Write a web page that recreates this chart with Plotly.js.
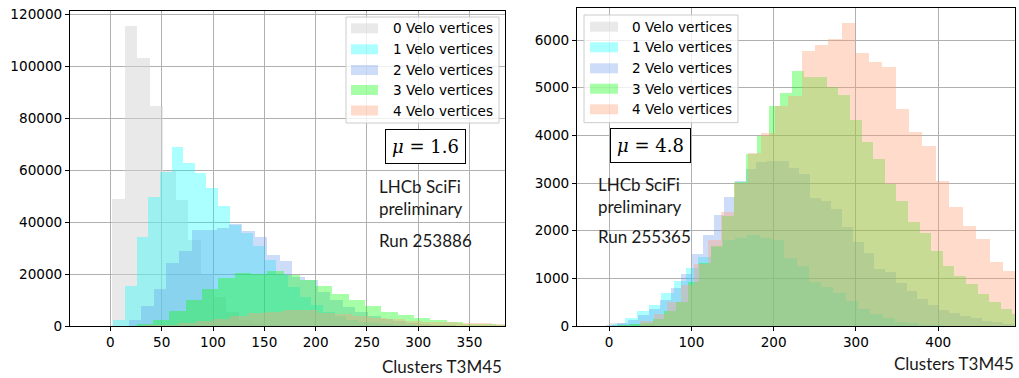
<!DOCTYPE html>
<html>
<head>
<meta charset="utf-8">
<script src="https://cdn.plot.ly/plotly-3.0.1.min.js"></script>
<style>html,body{margin:0;padding:0;background:#fff;}#chart{width:1019px;height:378px;}</style>
</head>
<body>
<div id="chart"></div>
<script>
// ---------------- DATA ----------------
const seriesNames = ["0 Velo vertices", "1 Velo vertices", "2 Velo vertices", "3 Velo vertices", "4 Velo vertices"];

// Left panel (mu = 1.6, Run 253886): histogram bins (start, width) and counts
const L0_start = 1.5,  L0_width = 12.4;
const L0_counts = [49000,115700,103200,84700,59700,48400,33000,20000,11000,5500,2500,1000,400,150];
const L1_start = 2.8,  L1_width = 11.35;
const L1_counts = [2500,15400,34100,49700,59350,68900,62700,58850,53200,46400,39000,36000,31000,25500,20000,15000,11000,8000,5500,3800,2500,1600,1000,600,350,200,100];
const L2_start = 17.8, L2_width = 12.28;
const L2_counts = [2200,7700,14400,24300,28900,36900,37100,37900,39100,36500,34300,27200,25000,19000,17600,13000,10000,7500,5500,4000,2800,1900,1200,800,500,300,150];
const L3_start = 9.7,  L3_width = 15.9;
const L3_counts = [100,650,2200,5700,10200,14400,18300,20400,20000,21000,19500,17600,15300,12500,9900,7600,5400,4100,3200,2200,1500,900,600,300];
const L4_start = 15,   L4_width = 17;
const L4_counts = [50,200,500,1200,2000,2800,4000,5000,5400,6300,6300,5200,4800,3800,3200,2600,2100,1700,1500,1200,1000,800];

// Right panel (mu = 4.8, Run 255365)
const R0_start = 0.6,  R0_width = 18.2;
const R0_counts = [55,45,25,10];
const R1_start = 3.9,  R1_width = 14.93;
const R1_counts = [40,160,315,440,700,950,1210,1450,1650,1800,1850,1900,1850,1800,1430,1250,930,825,690,530,350,250,160,90,60,30,20];
const R2_start = -3.4, R2_width = 13.03;
const R2_counts = [20,60,130,230,350,550,800,1100,1510,1910,2330,2710,3050,3300,3450,3470,3470,3310,3190,2680,2630,2450,2070,1770,1530,1190,1140,900,735,560,440,336,267,210,160,110,80,50];
const R3_start = -3.3, R3_width = 14.1;
const R3_counts = [0,20,40,60,140,320,500,920,1320,1680,2300,3030,3610,3980,4610,4890,5360,5220,5220,5010,4850,4330,3860,3500,2980,2620,2180,1960,1580,1250,1050,880,670,500,360,250];
const R4_start = 38.1, R4_width = 16.32;
const R4_counts = [100,250,500,850,1300,1800,2400,3000,3630,4050,4620,4820,5760,5890,6020,6360,5730,5530,5430,4550,4080,3780,3050,2490,2090,1830,1340,1160,900];

const xTicksLeft = [0,50,100,150,200,250,300,350];
const xTicksRight = [0,100,200,300,400];
const yTicksLeft = [0,20000,40000,60000,80000,100000,120000];
const yTicksRight = [0,1000,2000,3000,4000,5000,6000];
const xTitle = "Clusters T3M45";
const panelTexts = [["LHCb SciFi","preliminary","Run 253886"],["LHCb SciFi","preliminary","Run 255365"]];
const muValues = ["1.6","4.8"];

// ---------------- STYLE ----------------
const colors = ["rgba(211,211,211,0.5)","rgba(0,255,255,0.33)","rgba(100,149,237,0.32)","rgba(0,255,0,0.35)","rgba(255,160,122,0.38)"];
const W = 1019, H = 378;
const px = x => x / W;
const py = y => 1 - y / H;

function hist(start, width, counts, color, name, xa, ya) {
  const x = counts.map((_, i) => start + width * (i + 0.5));
  return {type:"bar", x:x, y:counts, width:counts.map(() => width), name:name,
    marker:{color:color, line:{width:0}}, xaxis:xa, yaxis:ya, showlegend:false, hoverinfo:"x+y"};
}

const traces = [
  hist(L0_start,L0_width,L0_counts,colors[0],seriesNames[0],"x","y"),
  hist(L1_start,L1_width,L1_counts,colors[1],seriesNames[1],"x","y"),
  hist(L2_start,L2_width,L2_counts,colors[2],seriesNames[2],"x","y"),
  hist(L3_start,L3_width,L3_counts,colors[3],seriesNames[3],"x","y"),
  hist(L4_start,L4_width,L4_counts,colors[4],seriesNames[4],"x","y"),
  hist(R0_start,R0_width,R0_counts,colors[0],seriesNames[0],"x2","y2"),
  hist(R1_start,R1_width,R1_counts,colors[1],seriesNames[1],"x2","y2"),
  hist(R2_start,R2_width,R2_counts,colors[2],seriesNames[2],"x2","y2"),
  hist(R3_start,R3_width,R3_counts,colors[3],seriesNames[3],"x2","y2"),
  hist(R4_start,R4_width,R4_counts,colors[4],seriesNames[4],"x2","y2")
];

const tickFont = {family:"DejaVu Sans", size:13.6, color:"#000"};
const axBase = {ticks:"outside", ticklen:4, tickwidth:1, tickcolor:"#000", showline:true, linecolor:"#000", linewidth:1,
  mirror:true, showgrid:true, gridcolor:"#b0b0b0", gridwidth:1, zeroline:false, tickfont:tickFont, fixedrange:true};

const layout = {
  width:W, height:H, margin:{l:0,r:0,t:0,b:0}, paper_bgcolor:"#fff", plot_bgcolor:"#fff",
  barmode:"overlay", bargap:0, showlegend:false,
  xaxis: Object.assign({}, axBase, {domain:[px(70),px(505)], range:[-39.4,384.6], tickmode:"array", tickvals:xTicksLeft, anchor:"y"}),
  yaxis: Object.assign({}, axBase, {domain:[py(326),py(11)], range:[0,121300], tickmode:"array", tickvals:yTicksLeft, ticktext:yTicksLeft.map(String), anchor:"x"}),
  xaxis2: Object.assign({}, axBase, {domain:[px(577),px(1015)], range:[-39,493.3], tickmode:"array", tickvals:xTicksRight, anchor:"y2"}),
  yaxis2: Object.assign({}, axBase, {domain:[py(326),py(8)], range:[0,6672], tickmode:"array", tickvals:yTicksRight, ticktext:yTicksRight.map(String), anchor:"x2"}),
  shapes:[], annotations:[]
};

const textFont = {family:"Lato, 'Open Sans', sans-serif", size:17, color:"#1a1a1a"};

// axis titles
layout.annotations.push({xref:"paper",yref:"paper",x:px(504),y:py(366),xanchor:"right",yanchor:"middle",showarrow:false,text:xTitle,font:textFont});
layout.annotations.push({xref:"paper",yref:"paper",x:px(1016),y:py(363),xanchor:"right",yanchor:"middle",showarrow:false,text:xTitle,font:textFont});

// mu boxes
const muBoxes = [{cx:425, cy:146.5}, {cx:650, cy:145.5}];
muBoxes.forEach((b, i) => {
  layout.annotations.push({xref:"paper",yref:"paper",x:px(b.cx),y:py(b.cy),xanchor:"center",yanchor:"middle",showarrow:false,
    text:"<i>μ</i> = " + muValues[i], font:{family:"'DejaVu Serif', serif", size:18, color:"#000"},
    bordercolor:"#000", borderwidth:1, borderpad:6, bgcolor:"#fff"});
});

// panel texts
const textPos = [{x:377, ys:[187,208.5,240]}, {x:596, ys:[184,206.7,236.7]}];
textPos.forEach((p, i) => {
  panelTexts[i].forEach((t, j) => {
    layout.annotations.push({xref:"paper",yref:"paper",x:px(p.x),y:py(p.ys[j]),xanchor:"left",yanchor:"middle",showarrow:false,text:t,font:textFont});
  });
});

// legends (matplotlib-style)
const legends = [
  {x0:346, x1:499, y0:17, y1:123, patchX:351, patchW:27, textX:391, rows:[28.3,49.3,70,90,110.5]},
  {x0:584, x1:738, y0:15, y1:122.7, patchX:590, patchW:28, textX:630, rows:[26.7,47.3,68.3,88.7,109.3]}
];
legends.forEach(L => {
  layout.shapes.push({type:"rect",xref:"paper",yref:"paper",x0:px(L.x0),x1:px(L.x1),y0:py(L.y1),y1:py(L.y0),
    fillcolor:"rgba(255,255,255,0.8)",line:{color:"#cccccc",width:1},layer:"above"});
  L.rows.forEach((ry, k) => {
    layout.shapes.push({type:"rect",xref:"paper",yref:"paper",x0:px(L.patchX),x1:px(L.patchX+L.patchW),y0:py(ry+5),y1:py(ry-5),
      fillcolor:colors[k],line:{width:0},layer:"above"});
    layout.annotations.push({xref:"paper",yref:"paper",x:px(L.textX),y:py(ry),xanchor:"left",yanchor:"middle",showarrow:false,
      text:seriesNames[k],font:{family:"DejaVu Sans",size:13.6,color:"#000"}});
  });
});

Plotly.newPlot("chart", traces, layout, {displayModeBar:false, staticPlot:true});
</script>
</body>
</html>
